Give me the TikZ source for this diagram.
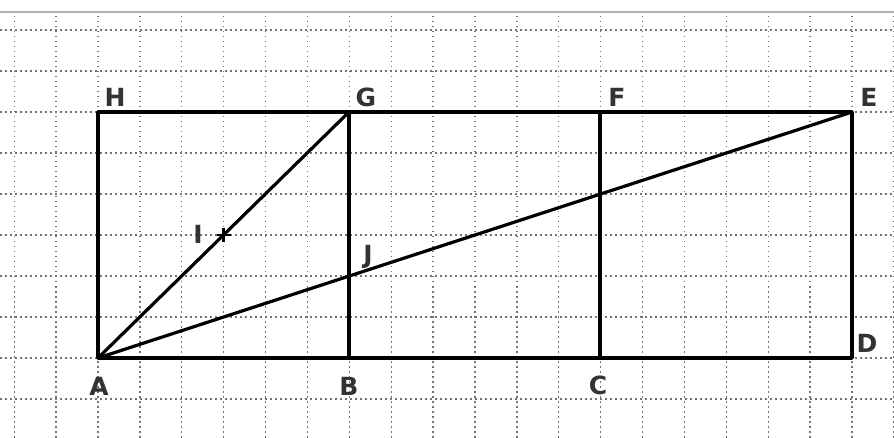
\documentclass[tikz,border=0pt]{standalone}
\usepackage{fontspec}
\setmainfont{DejaVu Sans}
\usetikzlibrary{calc}
\begin{document}
\begin{tikzpicture}[x=1pt,y=-1pt,
  gridline/.style={black!55, line width=1.4pt, dash pattern=on 1.5pt off 3.5pt},
  mainline/.style={black, line width=3.8pt, line cap=round, line join=round},
  diagline/.style={black, line width=3.2pt, line cap=round},
  lbl/.style={font=\fontsize{25}{25}\selectfont\bfseries, text=black!80, inner sep=0pt}]
\useasboundingbox (0,0) rectangle (894,438);
\fill[white] (0,0) rectangle (894,438);
% top border
\draw[gray!60, line width=2pt] (0,12) -- (894,12);
% grid
\foreach \k in {-2,...,19} {
  \draw[gridline] ({98+41.89*\k},16) -- ({98+41.89*\k},438);
}
\foreach \k in {-1,0,...,8} {
  \draw[gridline] (0,{358-41*\k}) -- (894,{358-41*\k});
}
% points
\coordinate (A) at (98,358);
\coordinate (B) at (349,358);
\coordinate (C) at (600,358);
\coordinate (D) at (852,358);
\coordinate (E) at (852,112);
\coordinate (F) at (600,112);
\coordinate (G) at (349,112);
\coordinate (H) at (98,112);
\coordinate (I) at ($(A)!0.5!(G)$);
\coordinate (J) at (intersection of A--E and B--G);
% figure
\draw[mainline] (A) -- (D) -- (E) -- (H) -- cycle;
\draw[mainline] (B) -- (G);
\draw[mainline] (C) -- (F);
\draw[diagline] (A) -- (G);
\draw[diagline] (A) -- (E);
% tick at I
\draw[black, line width=2.2pt] ([xshift=-7pt]I) -- ([xshift=7pt]I);
\draw[black, line width=2.2pt] ([yshift=-7pt]I) -- ([yshift=7pt]I);
% labels
\node[lbl] (lA) at (99,386) {A};
\node[lbl] (lB) at (349,386) {B};
\node[lbl] (lC) at (598,385) {C};
\node[lbl] (lD) at (867,343) {D};
\node[lbl] (lE) at (869,97) {E};
\node[lbl] (lF) at (617,97) {F};
\node[lbl] (lG) at (366,97) {G};
\node[lbl] (lH) at (115,97) {H};
\node[lbl] (lI) at (198,234) {I};
\node[lbl] (lJ) at (368,257) {J};
\end{tikzpicture}
\end{document}
